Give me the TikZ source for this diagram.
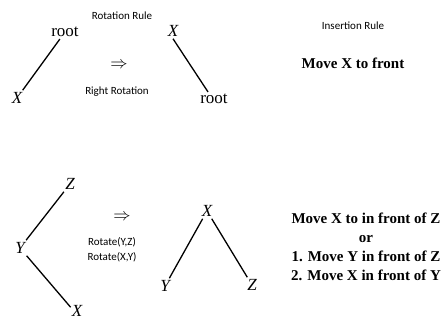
\documentclass[tikz,border=0pt]{standalone}
\usepackage{fontspec}
\newfontfamily\carl{Carlito}
\newfontfamily\tnr{Liberation Serif}
\begin{document}
\begin{tikzpicture}[x=1pt,y=-1pt,
  lbl/.style={font=\carl\fontsize{11}{15}\selectfont, inner sep=0pt, align=center},
  sym/.style={font=\tnr\fontsize{17}{19}\selectfont, inner sep=2pt},
  var/.style={font=\tnr\itshape\fontsize{17}{19}\selectfont, inner sep=2pt},
  arr/.style={font=\fontsize{16}{18}\selectfont, inner sep=2pt},
  bold/.style={font=\tnr\bfseries\fontsize{15}{19}\selectfont, align=center, inner sep=0pt},
  edge/.style={line width=1.3pt}]
\useasboundingbox (0,0) rectangle (444,320);
% top left tree
\node[lbl] (rotrule) at (122,16) {Rotation Rule};
\node[sym] (rootA) at (65,32) {root};
\node[var] (XA) at (17,98) {X};
\node[arr] (arrA) at (119,65) {$\Rightarrow$};
\node[lbl] (rightrot) at (117,92) {Right Rotation};
\node[var] (XB) at (173,31) {X};
\node[sym] (rootB) at (214,99) {root};
\draw[edge] (rootA) -- (XA);
\draw[edge] (XB.south) -- ([xshift=-6pt]rootB.north);
% insertion rule
\node[lbl] (insrule) at (353,26) {Insertion Rule};
\node[bold] (movefront) at (353,63) {Move X to front};
% bottom left tree
\node[var] (ZC) at (70,184) {Z};
\node[var] (YC) at (20,248) {Y};
\node[var, inner sep=1pt] (XC) at (77,311) {X};
\draw[edge] (ZC) -- (YC);
\draw[edge] (YC) -- ([yshift=-3pt]XC.north west);
\node[arr] (arrC) at (122,217) {$\Rightarrow$};
\node[lbl] (rotates) at (112,249.5) {Rotate(Y,Z)\\Rotate(X,Y)};
% bottom middle tree
\node[var] (XD) at (207,211) {X};
\node[var] (YD) at (165,286) {Y};
\node[var] (ZD) at (252,285) {Z};
\draw[edge] (XD) -- (YD);
\draw[edge] (XD) -- (ZD);
% text block
\node[bold] (moves) at (366,246.5) {Move X to in front of Z\\or\\1. Move Y in front of Z\\2. Move X in front of Y};
\end{tikzpicture}
\end{document}
